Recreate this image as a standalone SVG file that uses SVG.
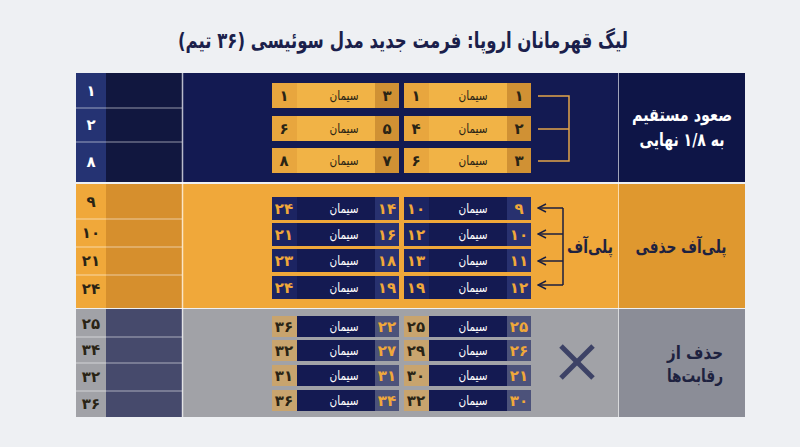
<svg xmlns="http://www.w3.org/2000/svg" width="800" height="447" viewBox="0 0 800 447">
<defs>
<style>
.fa{font-family:"DejaVu Sans",sans-serif;direction:rtl;unicode-bidi:embed;text-anchor:middle}
.title{font-size:22px;font-weight:bold;fill:#1b1f4b}
.num{font-size:15px;font-weight:bold}
.nm{font-size:13px}
.lbl{font-size:18px;font-weight:bold}
.sep{stroke:#ffffff;stroke-opacity:0.55;stroke-width:1}
.dk{fill:#2a2415}
.wt{fill:#ffffff}
.or{fill:#f0a83a}
.nv{fill:#1e2240}
</style>
<marker id="arr" viewBox="0 0 10 10" refX="9" refY="5" markerWidth="10" markerHeight="10" markerUnits="userSpaceOnUse" orient="auto">
<path d="M1,1 L9,5 L1,9" fill="none" stroke="#1b1f3f" stroke-width="1.5"/>
</marker>
</defs>
<rect width="800" height="447" fill="#eef0f3"/>
<text class="fa title" x="403" y="48" textLength="450" lengthAdjust="spacingAndGlyphs">لیگ قهرمانان اروپا: فرمت جدید مدل سوئیسی (۳۶ تیم)</text>

<!-- sections -->
<g id="section-top">
<rect x="76" y="73" width="669" height="109" fill="#131a52"/>
<rect x="76" y="73" width="30" height="109" fill="#253373"/>
<rect x="106" y="73" width="76" height="109" fill="#11173f"/>
<rect x="619" y="73" width="126" height="109" fill="#0e1547"/>
<line class="sep" x1="76" y1="108" x2="182" y2="108"/>
<line class="sep" x1="76" y1="142" x2="182" y2="142"/>
<text class="fa num wt" x="91" y="96">۱</text>
<text class="fa num wt" x="91" y="130">۲</text>
<text class="fa num wt" x="91" y="167">۸</text>
</g>
<g id="section-mid">
<rect x="76" y="184" width="669" height="124" fill="#f0a83a"/>
<rect x="106" y="184" width="76" height="124" fill="#d68f2d"/>
<rect x="619" y="184" width="126" height="124" fill="#df982f"/>
<line class="sep" x1="76" y1="219" x2="182" y2="219"/>
<line class="sep" x1="76" y1="247" x2="182" y2="247"/>
<line class="sep" x1="76" y1="275" x2="182" y2="275"/>
<text class="fa num dk" x="91" y="207">۹</text>
<text class="fa num dk" x="91" y="238">۱۰</text>
<text class="fa num dk" x="91" y="266">۲۱</text>
<text class="fa num dk" x="91" y="294">۲۴</text>
</g>
<g id="section-bot">
<rect x="76" y="309" width="669" height="108" fill="#a1a2a7"/>
<rect x="106" y="309" width="76" height="108" fill="#464a6c"/>
<rect x="619" y="309" width="126" height="108" fill="#8b8d97"/>
<line class="sep" x1="76" y1="337" x2="182" y2="337"/>
<line class="sep" x1="76" y1="363" x2="182" y2="363"/>
<line class="sep" x1="76" y1="391" x2="182" y2="391"/>
<text class="fa num dk" x="91" y="329">۲۵</text>
<text class="fa num dk" x="91" y="355">۳۴</text>
<text class="fa num dk" x="91" y="382">۳۲</text>
<text class="fa num dk" x="91" y="409">۳۶</text>
</g>
<g id="dividers">
<line x1="182.5" y1="73" x2="182.5" y2="417" stroke="#ffffff" stroke-opacity="0.7" stroke-width="1.5"/>
<line x1="618.5" y1="73" x2="618.5" y2="417" stroke="#ffffff" stroke-opacity="0.6" stroke-width="1"/>
</g>

<!-- labels -->
<g id="label-top">
<text class="fa lbl wt" x="682" y="121" textLength="100" lengthAdjust="spacingAndGlyphs">صعود مستقیم</text>
<text class="fa lbl wt" x="682" y="146" textLength="85" lengthAdjust="spacingAndGlyphs">به ۱/۸ نهایی</text>
</g>
<g id="label-mid">
<text class="fa lbl nv" x="681" y="253" textLength="91" lengthAdjust="spacingAndGlyphs">پلی‌آف حذفی</text>
</g>
<g id="label-playoff">
<text class="fa lbl nv" x="590" y="253" textLength="46" lengthAdjust="spacingAndGlyphs">پلی‌آف</text>
</g>
<g id="label-bot">
<text class="fa lbl nv" x="695" y="359" textLength="56" lengthAdjust="spacingAndGlyphs">حذف از</text>
<text class="fa lbl nv" x="695" y="382" textLength="56" lengthAdjust="spacingAndGlyphs">رقابت‌ها</text>
</g>

<!-- top boxes -->
<g id="top-r1">
<rect x="404" y="83" width="25" height="25" fill="#e8a63e"/><rect x="429" y="83" width="78" height="25" fill="#f1b346"/><rect x="507" y="83" width="24" height="25" fill="#d09134"/>
<text class="fa num dk" x="519" y="101">۱</text><text class="fa nm dk" x="473" y="100" textLength="29" lengthAdjust="spacingAndGlyphs">سیمان</text><text class="fa num dk" x="416" y="101">۱</text>
</g>
<g id="top-l1">
<rect x="272" y="83" width="25" height="25" fill="#e8a63e"/><rect x="297" y="83" width="78" height="25" fill="#f1b346"/><rect x="375" y="83" width="24" height="25" fill="#d09134"/>
<text class="fa num dk" x="387" y="101">۳</text><text class="fa nm dk" x="344" y="100" textLength="29" lengthAdjust="spacingAndGlyphs">سیمان</text><text class="fa num dk" x="284" y="101">۱</text>
</g>
<g id="top-r2">
<rect x="404" y="116" width="25" height="25" fill="#e8a63e"/><rect x="429" y="116" width="78" height="25" fill="#f1b346"/><rect x="507" y="116" width="24" height="25" fill="#d09134"/>
<text class="fa num dk" x="519" y="134">۲</text><text class="fa nm dk" x="473" y="133" textLength="29" lengthAdjust="spacingAndGlyphs">سیمان</text><text class="fa num dk" x="416" y="134">۴</text>
</g>
<g id="top-l2">
<rect x="272" y="116" width="25" height="25" fill="#e8a63e"/><rect x="297" y="116" width="78" height="25" fill="#f1b346"/><rect x="375" y="116" width="24" height="25" fill="#d09134"/>
<text class="fa num dk" x="387" y="134">۵</text><text class="fa nm dk" x="344" y="133" textLength="29" lengthAdjust="spacingAndGlyphs">سیمان</text><text class="fa num dk" x="284" y="134">۶</text>
</g>
<g id="top-r3">
<rect x="404" y="148" width="25" height="25" fill="#e8a63e"/><rect x="429" y="148" width="78" height="25" fill="#f1b346"/><rect x="507" y="148" width="24" height="25" fill="#d09134"/>
<text class="fa num dk" x="519" y="166">۳</text><text class="fa nm dk" x="473" y="165" textLength="29" lengthAdjust="spacingAndGlyphs">سیمان</text><text class="fa num dk" x="416" y="166">۶</text>
</g>
<g id="top-l3">
<rect x="272" y="148" width="25" height="25" fill="#e8a63e"/><rect x="297" y="148" width="78" height="25" fill="#f1b346"/><rect x="375" y="148" width="24" height="25" fill="#d09134"/>
<text class="fa num dk" x="387" y="166">۷</text><text class="fa nm dk" x="344" y="165" textLength="29" lengthAdjust="spacingAndGlyphs">سیمان</text><text class="fa num dk" x="284" y="166">۸</text>
</g>

<!-- middle boxes -->
<g id="mid-r1">
<rect x="404" y="197" width="25" height="23" fill="#1c2462"/><rect x="429" y="197" width="78" height="23" fill="#141a52"/><rect x="507" y="197" width="24" height="23" fill="#28316f"/>
<text class="fa num or" x="519" y="214">۹</text><text class="fa nm wt" x="473" y="213" textLength="29" lengthAdjust="spacingAndGlyphs">سیمان</text><text class="fa num or" x="416" y="214">۱۰</text>
</g>
<g id="mid-l1">
<rect x="272" y="197" width="25" height="23" fill="#1c2462"/><rect x="297" y="197" width="78" height="23" fill="#141a52"/><rect x="375" y="197" width="24" height="23" fill="#28316f"/>
<text class="fa num or" x="387" y="214">۱۴</text><text class="fa nm wt" x="344" y="213" textLength="29" lengthAdjust="spacingAndGlyphs">سیمان</text><text class="fa num or" x="284" y="214">۲۴</text>
</g>
<g id="mid-r2">
<rect x="404" y="223" width="25" height="23" fill="#1c2462"/><rect x="429" y="223" width="78" height="23" fill="#141a52"/><rect x="507" y="223" width="24" height="23" fill="#28316f"/>
<text class="fa num or" x="519" y="240">۱۰</text><text class="fa nm wt" x="473" y="239" textLength="29" lengthAdjust="spacingAndGlyphs">سیمان</text><text class="fa num or" x="416" y="240">۱۲</text>
</g>
<g id="mid-l2">
<rect x="272" y="223" width="25" height="23" fill="#1c2462"/><rect x="297" y="223" width="78" height="23" fill="#141a52"/><rect x="375" y="223" width="24" height="23" fill="#28316f"/>
<text class="fa num or" x="387" y="240">۱۶</text><text class="fa nm wt" x="344" y="239" textLength="29" lengthAdjust="spacingAndGlyphs">سیمان</text><text class="fa num or" x="284" y="240">۲۱</text>
</g>
<g id="mid-r3">
<rect x="404" y="249" width="25" height="23" fill="#1c2462"/><rect x="429" y="249" width="78" height="23" fill="#141a52"/><rect x="507" y="249" width="24" height="23" fill="#28316f"/>
<text class="fa num or" x="519" y="266">۱۱</text><text class="fa nm wt" x="473" y="265" textLength="29" lengthAdjust="spacingAndGlyphs">سیمان</text><text class="fa num or" x="416" y="266">۱۳</text>
</g>
<g id="mid-l3">
<rect x="272" y="249" width="25" height="23" fill="#1c2462"/><rect x="297" y="249" width="78" height="23" fill="#141a52"/><rect x="375" y="249" width="24" height="23" fill="#28316f"/>
<text class="fa num or" x="387" y="266">۱۸</text><text class="fa nm wt" x="344" y="265" textLength="29" lengthAdjust="spacingAndGlyphs">سیمان</text><text class="fa num or" x="284" y="266">۲۳</text>
</g>
<g id="mid-r4">
<rect x="404" y="276" width="25" height="23" fill="#1c2462"/><rect x="429" y="276" width="78" height="23" fill="#141a52"/><rect x="507" y="276" width="24" height="23" fill="#28316f"/>
<text class="fa num or" x="519" y="293">۱۲</text><text class="fa nm wt" x="473" y="292" textLength="29" lengthAdjust="spacingAndGlyphs">سیمان</text><text class="fa num or" x="416" y="293">۱۹</text>
</g>
<g id="mid-l4">
<rect x="272" y="276" width="25" height="23" fill="#1c2462"/><rect x="297" y="276" width="78" height="23" fill="#141a52"/><rect x="375" y="276" width="24" height="23" fill="#28316f"/>
<text class="fa num or" x="387" y="293">۱۹</text><text class="fa nm wt" x="344" y="292" textLength="29" lengthAdjust="spacingAndGlyphs">سیمان</text><text class="fa num or" x="284" y="293">۲۴</text>
</g>

<!-- bottom boxes -->
<g id="bot-r1">
<rect x="404" y="316" width="25" height="21" fill="#c8a46e"/><rect x="429" y="316" width="78" height="21" fill="#141a52"/><rect x="507" y="316" width="24" height="21" fill="#4c527a"/>
<text class="fa num or" x="519" y="332">۲۵</text><text class="fa nm wt" x="473" y="331" textLength="29" lengthAdjust="spacingAndGlyphs">سیمان</text><text class="fa num dk" x="416" y="332">۲۵</text>
</g>
<g id="bot-l1">
<rect x="272" y="316" width="25" height="21" fill="#c8a46e"/><rect x="297" y="316" width="78" height="21" fill="#141a52"/><rect x="375" y="316" width="24" height="21" fill="#4c527a"/>
<text class="fa num or" x="387" y="332">۲۲</text><text class="fa nm wt" x="344" y="331" textLength="29" lengthAdjust="spacingAndGlyphs">سیمان</text><text class="fa num dk" x="284" y="332">۳۶</text>
</g>
<g id="bot-r2">
<rect x="404" y="340" width="25" height="21" fill="#c8a46e"/><rect x="429" y="340" width="78" height="21" fill="#141a52"/><rect x="507" y="340" width="24" height="21" fill="#4c527a"/>
<text class="fa num or" x="519" y="356">۲۶</text><text class="fa nm wt" x="473" y="355" textLength="29" lengthAdjust="spacingAndGlyphs">سیمان</text><text class="fa num dk" x="416" y="356">۲۹</text>
</g>
<g id="bot-l2">
<rect x="272" y="340" width="25" height="21" fill="#c8a46e"/><rect x="297" y="340" width="78" height="21" fill="#141a52"/><rect x="375" y="340" width="24" height="21" fill="#4c527a"/>
<text class="fa num or" x="387" y="356">۲۷</text><text class="fa nm wt" x="344" y="355" textLength="29" lengthAdjust="spacingAndGlyphs">سیمان</text><text class="fa num dk" x="284" y="356">۳۲</text>
</g>
<g id="bot-r3">
<rect x="404" y="365" width="25" height="21" fill="#c8a46e"/><rect x="429" y="365" width="78" height="21" fill="#141a52"/><rect x="507" y="365" width="24" height="21" fill="#4c527a"/>
<text class="fa num or" x="519" y="381">۲۱</text><text class="fa nm wt" x="473" y="380" textLength="29" lengthAdjust="spacingAndGlyphs">سیمان</text><text class="fa num dk" x="416" y="381">۳۰</text>
</g>
<g id="bot-l3">
<rect x="272" y="365" width="25" height="21" fill="#c8a46e"/><rect x="297" y="365" width="78" height="21" fill="#141a52"/><rect x="375" y="365" width="24" height="21" fill="#4c527a"/>
<text class="fa num or" x="387" y="381">۳۱</text><text class="fa nm wt" x="344" y="380" textLength="29" lengthAdjust="spacingAndGlyphs">سیمان</text><text class="fa num dk" x="284" y="381">۳۱</text>
</g>
<g id="bot-r4">
<rect x="404" y="390" width="25" height="21" fill="#c8a46e"/><rect x="429" y="390" width="78" height="21" fill="#141a52"/><rect x="507" y="390" width="24" height="21" fill="#4c527a"/>
<text class="fa num or" x="519" y="406">۳۰</text><text class="fa nm wt" x="473" y="405" textLength="29" lengthAdjust="spacingAndGlyphs">سیمان</text><text class="fa num dk" x="416" y="406">۳۲</text>
</g>
<g id="bot-l4">
<rect x="272" y="390" width="25" height="21" fill="#c8a46e"/><rect x="297" y="390" width="78" height="21" fill="#141a52"/><rect x="375" y="390" width="24" height="21" fill="#4c527a"/>
<text class="fa num or" x="387" y="406">۳۴</text><text class="fa nm wt" x="344" y="405" textLength="29" lengthAdjust="spacingAndGlyphs">سیمان</text><text class="fa num dk" x="284" y="406">۳۶</text>
</g>

<!-- connectors -->
<g id="connectors" fill="none">
<path d="M538,96 H569 V161 H538 M538,129 H569" stroke="#e3a54a" stroke-width="1.5"/>
<path d="M563,208 V285" stroke="#1b1f3f" stroke-width="1.5"/>
<line x1="563" y1="208" x2="538" y2="208" stroke="#1b1f3f" stroke-width="1.5" marker-end="url(#arr)"/>
<line x1="563" y1="234" x2="538" y2="234" stroke="#1b1f3f" stroke-width="1.5" marker-end="url(#arr)"/>
<line x1="563" y1="261" x2="538" y2="261" stroke="#1b1f3f" stroke-width="1.5" marker-end="url(#arr)"/>
<line x1="563" y1="285" x2="538" y2="285" stroke="#1b1f3f" stroke-width="1.5" marker-end="url(#arr)"/>
</g>
<g id="eliminated-mark" stroke="#3d4266" stroke-width="5">
<line x1="561" y1="346" x2="593" y2="378"/>
<line x1="561" y1="378" x2="593" y2="346"/>
</g>
</svg>
